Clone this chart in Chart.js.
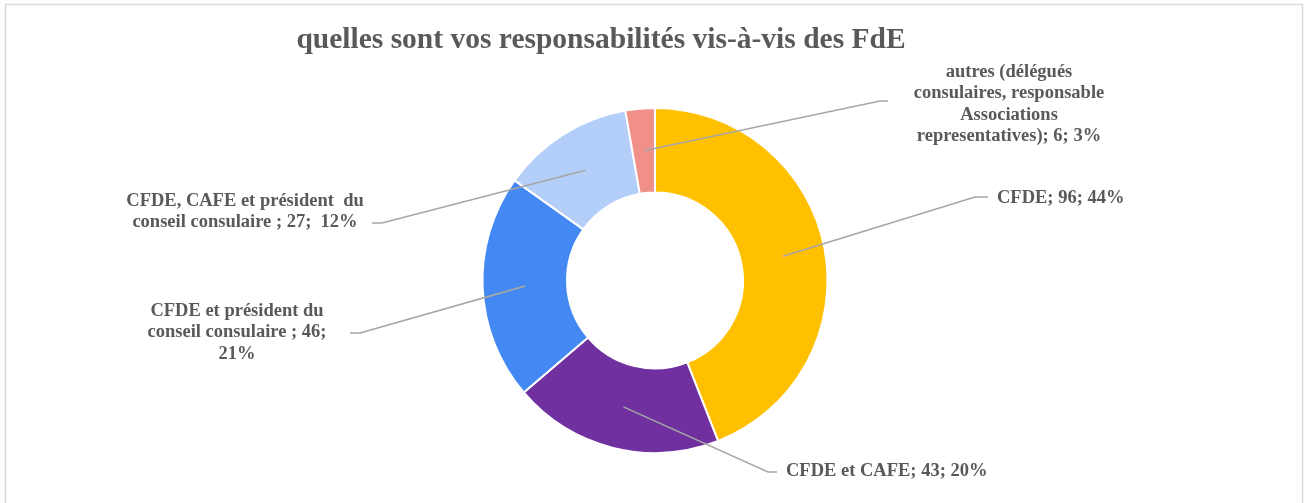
<!DOCTYPE html>
<html>
<head>
<meta charset="utf-8">
<script src="https://cdn.jsdelivr.net/npm/chart.js@4"></script>
<style>
  html, body { margin: 0; padding: 0; background: #fff; }
  #wrap { position: relative; width: 1307px; height: 503px; }
</style>
</head>
<body>
<div id="wrap"><canvas id="grafico"></canvas></div>
<script>
// données
const categories = [
  "CFDE",
  "CFDE et CAFE",
  "CFDE et président du conseil consulaire",
  "CFDE, CAFE et président du conseil consulaire",
  "autres (délégués consulaires, responsable Associations representatives)"
];
const reponses = [96, 43, 46, 27, 6];
const couleurs = ["#FFC000", "#7030A0", "#4488F4", "#B4CEFA", "#F09088"];

// texte des étiquettes, comme dans le graphique d'origine
const etiquettes = [
  ["CFDE; 96; 44%"],
  ["CFDE et CAFE; 43; 20%"],
  ["CFDE et président du", "conseil consulaire ; 46;", "21%"],
  ["CFDE, CAFE et président  du", "conseil consulaire ; 27;  12%"],
  ["autres (délégués", "consulaires, responsable", "Associations", "representatives); 6; 3%"]
];

// placement des étiquettes (coude de la ligne de rappel + bloc de texte)
const placement = [
  { coude: [975, 197], fin: [988, 197], x: 997, y: 198, align: "left" },
  { coude: [768, 472], fin: [777, 472], x: 786, y: 471, align: "left" },
  { coude: [360, 333], fin: [350, 333], x: 237, y: 311, align: "center" },
  { coude: [382, 223], fin: [372, 223], x: 245, y: 201, align: "center" },
  { coude: [880, 101], fin: [888, 101], x: 1009, y: 72, align: "center" }
];

const police = "'Liberation Serif', 'Times New Roman', serif";

const decor = {
  id: "decor",
  beforeDraw(chart) {
    const ctx = chart.ctx;
    ctx.save();
    ctx.strokeStyle = "#D9D9D9";
    ctx.lineWidth = 1.5;
    ctx.strokeRect(5.5, 4.5, 1297, 530);
    ctx.restore();
  },
  afterDatasetsDraw(chart) {
    const ctx = chart.ctx;
    const arcs = chart.getDatasetMeta(0).data;
    ctx.save();
    // titre
    ctx.fillStyle = "#595959";
    ctx.font = "bold 29.5px " + police;
    ctx.textAlign = "center";
    ctx.textBaseline = "middle";
    ctx.fillText("quelles sont vos responsabilités vis-à-vis des FdE", 601, 40);

    // lignes de rappel
    ctx.strokeStyle = "#A6A6A6";
    ctx.lineWidth = 1.6;
    arcs.forEach((arc, i) => {
      const p = arc.tooltipPosition();
      const pl = placement[i];
      ctx.beginPath();
      ctx.moveTo(p.x, p.y);
      ctx.lineTo(pl.coude[0], pl.coude[1]);
      ctx.lineTo(pl.fin[0], pl.fin[1]);
      ctx.stroke();
    });

    // étiquettes
    ctx.font = "bold 18.5px " + police;
    etiquettes.forEach((lignes, i) => {
      const pl = placement[i];
      ctx.textAlign = pl.align;
      lignes.forEach((t, k) => {
        ctx.fillText(t, pl.x, pl.y + k * 21.5);
      });
    });
    ctx.restore();
  }
};

const ctx = document.getElementById("grafico").getContext("2d");
window.myChart = new Chart(ctx, {
  type: "doughnut",
  data: {
    labels: categories,
    datasets: [{
      data: reponses,
      backgroundColor: couleurs,
      borderColor: "#FFFFFF",
      borderWidth: 2
    }]
  },
  options: {
    responsive: true,
    maintainAspectRatio: false,
    animation: false,
    radius: 172.5,
    cutout: 87.5,
    layout: { padding: { top: 108, bottom: 50, left: 3, right: 0 } },
    plugins: {
      legend: { display: false },
      tooltip: { enabled: false },
      title: { display: false }
    }
  },
  plugins: [decor]
});
</script>
</body>
</html>
